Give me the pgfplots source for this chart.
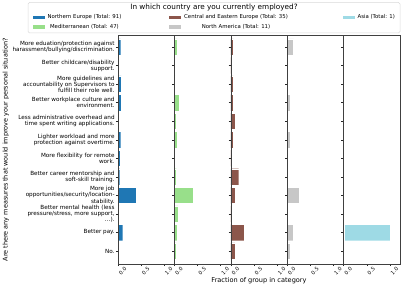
\documentclass[border=0pt]{standalone}
\usepackage{fontspec}
\setmainfont{DejaVu Sans}
\usepackage{pgfplots}
\pgfplotsset{compat=1.18}

\definecolor{cNE}{RGB}{31,119,180}
\definecolor{cMed}{RGB}{152,223,138}
\definecolor{cCEE}{RGB}{140,86,75}
\definecolor{cNA}{RGB}{199,199,199}
\definecolor{cAsia}{RGB}{158,218,229}

\pgfplotsset{panel/.style={
  scale only axis, width=56.4bp, height=228.5bp,
  anchor=south west,
  xbar, bar width=0.88, bar shift=0pt,
  xmin=0, xmax=1.22, ymin=-0.62, ymax=11.7, y dir=reverse,
  ytick={0,...,11}, yticklabels={},
  xtick={0,0.5,1.0}, xticklabels={0.0,0.5,1.0},
  x tick label style={rotate=45, anchor=center, yshift=-6.5bp, font=\fontsize{5.2}{6}\selectfont, inner sep=0bp},
  tick align=outside, major tick length=2.2bp,
  tick style={black!85, line width=0.35bp},
  tick pos=left,
  axis line style={line width=0.45bp, black!75},
  axis on top,
  /pgf/number format/assume math mode=true,
  every axis plot/.append style={draw=white, line width=0.2bp},
}}

\begin{document}
\begin{tikzpicture}
\useasboundingbox (0,0) rectangle (407bp,291bp);

% Panel 1: Northern Europe
\begin{axis}[panel, at={(118bp,27bp)},
  yticklabels={
    {More eduation/protection against\\harassment/bullying/discrimination.},
    {Better childcare/disability\\support.},
    {More guidelines and\\accountability on Supervisors to\\fulfill their role well.},
    {Better workplace culture and\\environment.},
    {Less administrative overhead and\\time spent writing applications.},
    {Lighter workload and more\\protection against overtime.},
    {More flexibility for remote\\work.},
    {Better career mentorship and\\soft-skill training.},
    {More job\\opportunities/security/location-\\stability.},
    {Better mental health (less\\pressure/stress, more support,\\\ldots).},
    {Better pay.},
    {No.}},
  yticklabel style={align=right, font=\fontsize{5.7}{6.1}\selectfont, inner sep=1bp},
  ylabel={Are there any measures that would improve your personal situation?},
  ylabel style={font=\fontsize{6.5}{7}\selectfont, yshift=-1bp},
  legend columns=3,
  legend style={draw=none, fill=none, at={(-1.59,1.105)}, anchor=north west,
    font=\fontsize{5.4}{6}\selectfont,
    /tikz/every odd column/.style={column sep=2bp},
    /tikz/column 2/.style={column sep=46bp},
    /tikz/column 4/.style={column sep=53bp},
    row sep=2.3bp, nodes={inner sep=0.8bp}},
  legend image code/.code={\fill[#1] (0bp,-2bp) rectangle (13bp,2.2bp);},
]
\addlegendimage{fill=cNE}
\addlegendentry{Northern Europe (Total: 91)}
\addlegendimage{fill=cCEE}
\addlegendentry{Central and Eastern Europe (Total: 35)}
\addlegendimage{fill=cAsia}
\addlegendentry{Asia (Total: 1)}
\addlegendimage{fill=cMed}
\addlegendentry{Mediterranean (Total: 47)}
\addlegendimage{fill=cNA}
\addlegendentry{North America (Total: 11)}
\addplot[fill=cNE, forget plot] coordinates {
 (0.058,0) (0.03,1) (0.072,2) (0.072,3) (0.022,4) (0.058,5)
 (0.045,6) (0.035,7) (0.39,8) (0.03,9) (0.1,10) (0.015,11)};
\end{axis}

% Panel 2: Mediterranean
\begin{axis}[panel, at={(174.4bp,27bp)}]
\addplot[fill=cMed] coordinates {
 (0.065,0) (0.021,1) (0.021,2) (0.11,3) (0.043,4) (0.065,5)
 (0.021,6) (0.043,7) (0.405,8) (0.08,9) (0.065,10) (0.043,11)};
\end{axis}

% Panel 3: Central and Eastern Europe
\begin{axis}[panel, at={(230.8bp,27bp)},
  xlabel={Fraction of group in category},
  xlabel style={font=\fontsize{6.6}{7}\selectfont, yshift=1bp}]
\addplot[fill=cCEE] coordinates {
 (0.057,0) (0,1) (0.057,2) (0.057,3) (0.086,4) (0.057,5)
 (0.029,6) (0.171,7) (0.086,8) (0.029,9) (0.286,10) (0.086,11)};
\end{axis}

% Panel 4: North America
\begin{axis}[panel, at={(287.2bp,27bp)}]
\addplot[fill=cNA] coordinates {
 (0.138,0) (0,1) (0,2) (0.067,3) (0,4) (0.067,5)
 (0,6) (0,7) (0.267,8) (0,9) (0.133,10) (0.067,11)};
\end{axis}

% Panel 5: Asia
\begin{axis}[panel, at={(343.6bp,27bp)}]
\addplot[fill=cAsia] coordinates {
 (0,0) (0,1) (0,2) (0,3) (0,4) (0,5)
 (0,6) (0,7) (0,8) (0,9) (1.0,10) (0,11)};
\end{axis}

% legend frame and title
\draw[black!15, line width=0.5bp, rounded corners=1.5bp] (28bp,258bp) rectangle (400bp,288.5bp);
\node[font=\fontsize{7.3}{8}\selectfont] at (214bp,283.3bp) {In which country are you currently employed?};
\end{tikzpicture}
\end{document}
